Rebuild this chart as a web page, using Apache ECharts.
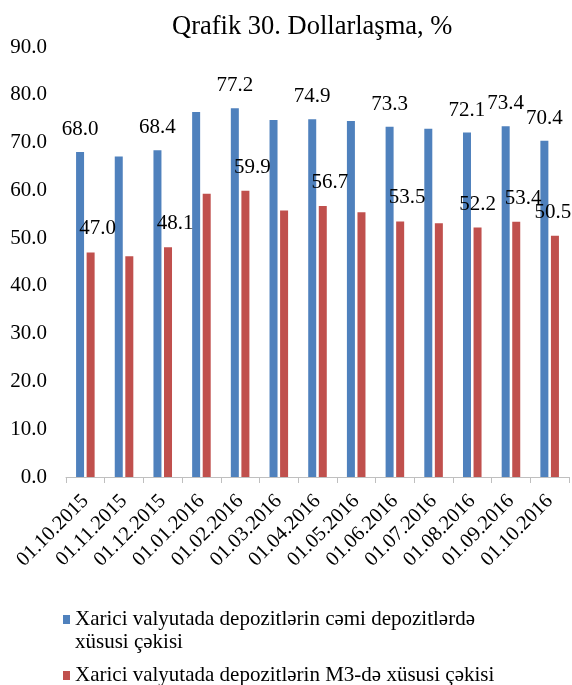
<!DOCTYPE html>
<html>
<head>
<meta charset="utf-8">
<script src="https://cdn.jsdelivr.net/npm/echarts@6/dist/echarts.min.js"></script>
<style>
  html, body { margin: 0; padding: 0; background: #fff; }
  #chart { width: 572px; height: 685px; }
</style>
</head>
<body>
<div id="chart"></div>
<script>
// Reporting dates
const dates = ['01.10.2015', '01.11.2015', '01.12.2015', '01.01.2016', '01.02.2016', '01.03.2016',
  '01.04.2016', '01.05.2016', '01.06.2016', '01.07.2016', '01.08.2016', '01.09.2016', '01.10.2016'];

// Share of foreign-currency deposits in total deposits, %
const shareTotal = [68.0, 67.1, 68.4, 76.4, 77.2, 74.7, 74.9, 74.5, 73.3, 72.9, 72.1, 73.4, 70.4];

// Share of foreign-currency deposits in M3, %
const shareM3 = [47.0, 46.2, 48.1, 59.3, 59.9, 55.8, 56.7, 55.4, 53.5, 53.1, 52.2, 53.4, 50.5];

// Dates whose values carry a data label
const labelledDates = ['01.10.2015', '01.12.2015', '01.02.2016', '01.04.2016', '01.06.2016',
  '01.08.2016', '01.09.2016', '01.10.2016'];

// Y axis ticks
const yMin = 0, yMax = 90, yStep = 10;

const nameTotal = 'Xarici valyutada depozitlərin cəmi depozitlərdə xüsusi çəkisi';
const nameM3 = 'Xarici valyutada depozitlərin M3-də xüsusi çəkisi';

const SERIF = '"Liberation Serif", "Times New Roman", serif';

// Horizontal nudge of the M3 value labels (px); a few sit closer to their bar
const M3_LABEL_SHIFT = 7;
const M3_LABEL_SHIFT_OVERRIDE = { '01.08.2016': 0, '01.10.2016': -2 };

function labelFormatter(p) {
  return labelledDates.indexOf(dates[p.dataIndex]) >= 0 ? p.value.toFixed(1) : '';
}

// Legend text: the long name wraps after "depozitlərdə"; a leading blank line keeps
// the colour key level with the first line of the wrapped text.
function legendFormatter(name) {
  if (name === nameTotal) {
    return '\nXarici valyutada depozitlərin cəmi depozitlərdə\nxüsusi çəkisi';
  }
  return name;
}

const m3Data = shareM3.map((v, i) => {
  const dx = dates[i] in M3_LABEL_SHIFT_OVERRIDE ? M3_LABEL_SHIFT_OVERRIDE[dates[i]] : M3_LABEL_SHIFT;
  return { value: v, label: { offset: [dx, 0] } };
});

const chart = echarts.init(document.getElementById('chart'), null, { renderer: 'canvas' });

chart.setOption({
  animation: false,
  backgroundColor: '#ffffff',
  textStyle: { fontFamily: SERIF },
  title: {
    text: 'Qrafik 30. Dollarlaşma, %',
    left: 167,
    top: 9,
    textStyle: { fontFamily: SERIF, fontSize: 26.5, fontWeight: 'normal', color: '#000' }
  },
  grid: { left: 66, right: 3, top: 47, bottom: 208, containLabel: false },
  legend: {
    orient: 'vertical',
    left: 63,
    top: 585,
    padding: 0,
    itemWidth: 7,
    itemHeight: 9,
    itemGap: 10,
    icon: 'rect',
    formatter: legendFormatter,
    textStyle: { fontFamily: SERIF, fontSize: 21, color: '#000', lineHeight: 23 },
    data: [nameTotal, nameM3]
  },
  xAxis: {
    type: 'category',
    data: dates,
    boundaryGap: true,
    axisLine: { show: true, lineStyle: { color: '#BFBFBF', width: 1 } },
    axisTick: { show: true, length: 6, alignWithLabel: false, lineStyle: { color: '#BFBFBF' } },
    axisLabel: {
      rotate: 45,
      interval: 0,
      margin: 21,
      fontFamily: SERIF,
      fontSize: 20.5,
      color: '#000'
    }
  },
  yAxis: {
    type: 'value',
    min: yMin,
    max: yMax,
    interval: yStep,
    splitLine: { show: false },
    axisLine: { show: false },
    axisTick: { show: false },
    axisLabel: {
      margin: 19,
      fontFamily: SERIF,
      fontSize: 21,
      color: '#000',
      formatter: v => v.toFixed(1)
    }
  },
  series: [
    {
      name: nameTotal,
      type: 'bar',
      data: shareTotal,
      barWidth: 8,
      barGap: '32%',
      itemStyle: { color: '#4F81BD' },
      label: {
        show: true,
        position: 'top',
        distance: 12,
        fontFamily: SERIF,
        fontSize: 21,
        color: '#000',
        formatter: labelFormatter
      }
    },
    {
      name: nameM3,
      type: 'bar',
      data: m3Data,
      barWidth: 8,
      itemStyle: { color: '#C0504D' },
      label: {
        show: true,
        position: 'top',
        distance: 13,
        fontFamily: SERIF,
        fontSize: 21,
        color: '#000',
        formatter: labelFormatter
      }
    }
  ]
});
</script>
</body>
</html>
